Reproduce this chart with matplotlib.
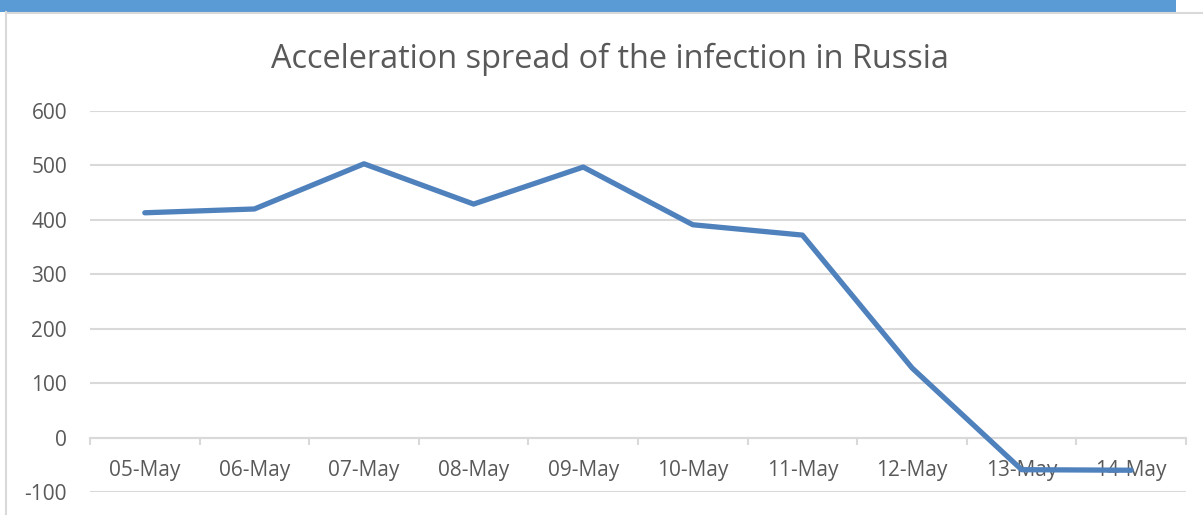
import matplotlib
matplotlib.use("Agg")
import matplotlib.pyplot as plt
from matplotlib.patches import Rectangle
from matplotlib.lines import Line2D

categories = ["05-May", "06-May", "07-May", "08-May", "09-May",
              "10-May", "11-May", "12-May", "13-May", "14-May"]
values = [413, 420, 503, 429, 497, 391, 372, 128, -59, -60]
yticks = [-100, 0, 100, 200, 300, 400, 500, 600]
title = "Acceleration spread of the infection in Russia"

W, H = 1203, 515
fig = plt.figure(figsize=(W / 100, H / 100), dpi=100)
plt.rcParams['font.family'] = ['Open Sans', 'DejaVu Sans']

# frame decorations
fig.patches.append(Rectangle((0, 1 - 12 / H), 1176 / W, 12 / H, transform=fig.transFigure,
                             facecolor="#5B9BD5", edgecolor="none", zorder=0))
fig.lines.append(Line2D([6 / W, 6 / W], [0, 1 - 12 / H], transform=fig.transFigure,
                        color="#D9D9D9", lw=1.5))
fig.lines.append(Line2D([6 / W, 1], [1 - 12.5 / H, 1 - 12.5 / H], transform=fig.transFigure,
                        color="#D9D9D9", lw=1.5))

left, right = 90 / W, 1186 / W
bottom, top = 1 - 492 / H, 1 - 111 / H
ax = fig.add_axes([left, bottom, right - left, top - bottom])

x = list(range(len(categories)))
ax.plot(x, values, color="#4F81BD", lw=3.8, solid_capstyle="round", solid_joinstyle="round", zorder=3)

ax.set_xlim(-0.5, len(categories) - 0.5)
ax.set_ylim(-100, 600)
ax.set_yticks(yticks)
ax.set_yticklabels([str(v) for v in yticks])
ax.grid(axis="y", color="#D9D9D9", lw=1.5)
ax.set_axisbelow(True)

for s in ["top", "right", "left"]:
    ax.spines[s].set_visible(False)
ax.spines["bottom"].set_position(("data", 0))
ax.spines["bottom"].set_color("#D9D9D9")
ax.spines["bottom"].set_linewidth(1.5)

ax.set_xticks(x)
ax.set_xticklabels(categories)
ax.set_xticks([i - 0.5 for i in range(len(categories) + 1)], minor=True)
ax.tick_params(axis="x", which="major", length=0, pad=16, labelsize=15, labelcolor="#595959")
ax.tick_params(axis="x", which="minor", length=5, width=1.5, color="#D9D9D9")
ax.tick_params(axis="y", length=0, pad=16.5, labelsize=15, labelcolor="#595959")

fig.text(610 / W, 1 - 68 / H, title, ha="center", va="baseline", fontsize=23.4, color="#595959")

fig.savefig("out.png", dpi=100)
